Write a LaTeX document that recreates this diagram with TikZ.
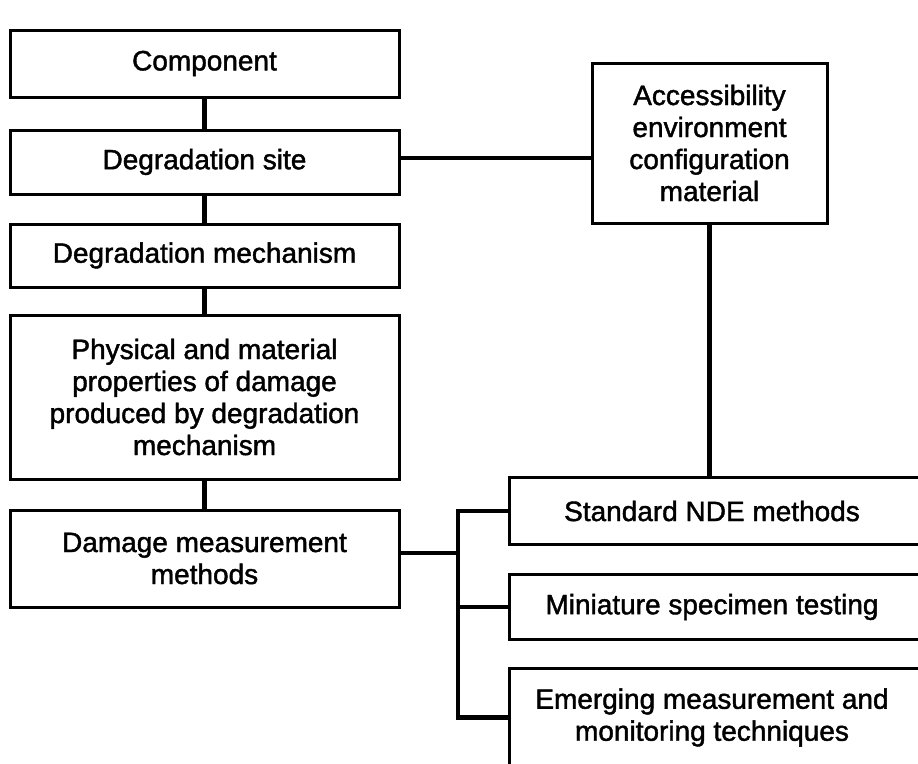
\documentclass[tikz,border=0pt]{standalone}
\usepackage{fontspec}
\setmainfont{Liberation Sans}
\newfontfamily\lblfont{Liberation Sans}[FakeBold=1.5]
\begin{document}
\begin{tikzpicture}[x=1pt,y=-1pt,
  box/.style={draw, line width=3pt, minimum width=389pt, align=center, inner sep=0pt,
    font=\lblfont\fontsize{28}{32}\selectfont},
  rbox/.style={box, draw=none, minimum width=402pt},
  openbox/.style={line width=3pt},
  conn/.style={line width=4.5pt}]
\useasboundingbox (0,0) rectangle (918,763);
\clip (0,0) rectangle (918,763);
\fill[white] (0,0) rectangle (918,763);

% left column
\node[box, minimum height=67pt] (comp) at (204.5,63.5) {Component};
\node[box, minimum height=64pt] (site) at (204.5,162) {Degradation site};
\node[box, minimum height=63pt] (mech) at (204.5,255.5) {Degradation mechanism};
\node[box, minimum height=164pt] (phys) at (204.5,397) {Physical and material\\properties of damage\\produced by degradation\\mechanism};
\node[box, minimum height=97pt] (dmg) at (204.5,558.5) {Damage measurement\\methods};

% right side
\node[box, minimum width=235pt, minimum height=160pt] (acc) at (709.5,143) {Accessibility\\environment\\configuration\\material};
\node[rbox, minimum height=64pt] (nde) at (712,511) {Standard NDE methods};
\node[rbox, minimum height=62pt] (mini) at (712,607) {Miniature specimen testing};
\node[rbox, minimum height=95pt] (emg) at (712,717.5) {Emerging measurement and\\monitoring techniques};

\draw[openbox] (nde.north west) rectangle ([xshift=40pt]nde.south east);
\draw[openbox] (mini.north west) rectangle ([xshift=40pt]mini.south east);
\draw[openbox] (emg.north west) rectangle ([xshift=40pt]emg.south east);

% connectors
\draw[conn] (comp) -- (site);
\draw[conn] (site) -- (mech);
\draw[conn] (mech) -- (phys);
\draw[conn] (phys) -- (dmg);
\draw[conn] ([yshift=4pt]site.east) -- ([yshift=4pt]site.east -| acc.west);
\draw[conn] (acc.south) -- (acc.south |- nde.north);

\coordinate (bus) at (458,553);
\draw[conn] (dmg.east |- bus) -- (bus);
\draw[conn] (nde.west) -- (bus |- nde.west) -- (bus |- emg.west) -- (emg.west);
\draw[conn] (mini.west) -- (bus |- mini.west);
\end{tikzpicture}
\end{document}
